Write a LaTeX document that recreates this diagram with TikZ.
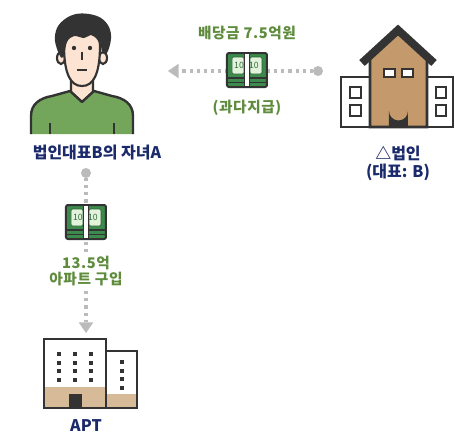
\documentclass[tikz,border=0pt]{standalone}
\usepackage{fontspec}
\setmainfont{Noto Sans CJK KR}[BoldFont={Noto Sans CJK KR Black}]
\usetikzlibrary{arrows.meta}
\definecolor{ink}{HTML}{333333}
\definecolor{navy}{HTML}{1B2A6B}
\definecolor{leaf}{HTML}{5E8C3C}
\definecolor{shirt}{HTML}{73A65A}
\definecolor{skin}{HTML}{FDE4D2}
\definecolor{dotgray}{HTML}{BBBBBB}
\definecolor{brick}{HTML}{C49A6C}
\definecolor{sand}{HTML}{D7BA97}
\definecolor{cash}{HTML}{3C8B4C}
\definecolor{bill}{HTML}{E3F2DA}
\tikzset{
  navylabel/.style={font=\bfseries\fontsize{12}{13.5}\selectfont, text=navy, align=center},
  leaflabel/.style={font=\bfseries\fontsize{11}{12.5}\selectfont\addfontfeatures{LetterSpace=4}, text=leaf, align=center},
  dotline/.style={draw=dotgray, line width=2.3pt, dash pattern=on 2.3pt off 3pt,
    -{Triangle[width=11pt,length=8pt,fill=dotgray,line width=0pt]}},
  dotstart/.style={circle, fill=dotgray, inner sep=0pt, minimum size=7.5pt},
  cashpack/.pic={
    \filldraw[fill=cash, draw=ink, line width=1.5pt, rounded corners=1.5pt] (-20,-17) rectangle (20,17);
    \draw[ink, line width=1.3pt] (-20,8) -- (20,8) (-20,12.5) -- (20,12.5);
    \filldraw[fill=bill, draw=cash!70!black, line width=0.5pt, rounded corners=1pt] (-15,-13) rectangle (-3,4);
    \filldraw[fill=bill, draw=cash!70!black, line width=0.5pt, rounded corners=1pt] (3,-13) rectangle (15,4);
    \node[font=\fontsize{6.5}{6.5}\selectfont, text=cash!80!black] at (-8,-4.5) {10};
    \node[font=\fontsize{6.5}{6.5}\selectfont, text=cash!80!black] at (7,-4.5) {10};
    \filldraw[fill=white, draw=ink, line width=1pt] (-2.5,-17) rectangle (2.5,17);
  }
}
\begin{document}
\begin{tikzpicture}[x=0.75pt, y=-0.75pt]
  \useasboundingbox (0,0) rectangle (455,436);

  % child
  \filldraw[fill=skin, draw=ink, line width=1.6pt] (71,76) -- (71,92) -- (82,102) -- (93,92) -- (93,76);
  \fill[shirt] (31,134) -- (31,116) .. controls (31,104) and (40,98) .. (52,96) -- (70,91) -- (82,102)
    -- (94,91) -- (112,96) .. controls (124,98) and (133,104) .. (133,116) -- (133,134) -- cycle;
  \draw[ink, line width=1.8pt, line join=round] (31,134) -- (31,116) .. controls (31,104) and (40,98) .. (52,96)
    -- (70,91) -- (82,102) -- (94,91) -- (112,96) .. controls (124,98) and (133,104) .. (133,116) -- (133,134);
  \draw[ink, line width=1.6pt] (50,123) -- (50,134) (114,123) -- (114,134);
  \filldraw[fill=skin, draw=ink, line width=1.6pt] (61,58) ellipse (4 and 6);
  \filldraw[fill=skin, draw=ink, line width=1.6pt] (103,58) ellipse (4 and 6);
  \filldraw[fill=skin, draw=ink, line width=1.6pt] (64,45) .. controls (64,75) and (71,86) .. (82,86)
    .. controls (93,86) and (100,75) .. (100,45) .. controls (100,28) and (64,28) .. (64,45) -- cycle;
  \fill[ink] plot[smooth cycle, tension=0.6] coordinates {(60,56) (55,41) (57,28) (65,19) (76,14) (89,14)
    (101,18) (109,27) (111,39) (107,53) (102,52) (100,41) (92,35) (84,38) (74,36) (67,42) (64,56)};
  \fill[ink] (74,48) circle (2.2) (90,48) circle (2.2);
  \draw[ink, line width=1.4pt] (82,52) -- (82,60);
  \draw[ink, line width=1.4pt] (77,70) -- (87,70);
  \node[navylabel] (child) at (97,153) {법인대표B의 자녀A};

  % corporation
  \filldraw[fill=white, draw=ink, line width=2.2pt] (341,77) rectangle (370,127);
  \filldraw[fill=white, draw=ink, line width=2.2pt] (427,77) rectangle (453,127);
  \filldraw[fill=brick, draw=ink, line width=2.2pt] (370,127) -- (370,58) -- (398,33) -- (427,58) -- (427,127) -- cycle;
  \draw[ink, line width=6pt, line join=miter] (362,63) -- (398,30) -- (434,63);
  \filldraw[fill=white, draw=ink, line width=2.2pt] (384,69) rectangle (395,77);
  \filldraw[fill=white, draw=ink, line width=2.2pt] (402,69) rectangle (413,77);
  \fill[ink] (389,127) -- (389,111) arc[start angle=180, end angle=0, radius=9.5] -- (408,127) -- cycle;
  \foreach \wy in {87,105} {
    \filldraw[fill=white, draw=ink, line width=2.2pt] (350,\wy) rectangle (361,\wy+11);
    \filldraw[fill=white, draw=ink, line width=2.2pt] (436,\wy) rectangle (446,\wy+11);
  }
  \node[navylabel] (corp) at (398,163) {△법인\\(대표: B)};

  % dividend flow
  \node[dotstart] (corpdot) at (318,71) {};
  \coordinate (childtip) at (168,71);
  \draw[dotline] (corpdot) -- (childtip);
  \pic at (247,70) {cashpack};
  \node[leaflabel] (dividend) at (247,33) {배당금 7.5억원};
  \node[leaflabel] (excess) at (247,108) {(과다지급)};

  % apartment
  \filldraw[fill=white, draw=ink, line width=2pt] (44,339) rectangle (106,408);
  \filldraw[fill=white, draw=ink, line width=2pt] (106,351) rectangle (137,408);
  \fill[sand] (45,387) rectangle (105,407);
  \fill[sand] (107,394) rectangle (136,407);
  \draw[ink, line width=2pt] (44,339) rectangle (106,408) (106,351) rectangle (137,408);
  \fill[ink] (69,394) rectangle (82,408);
  \foreach \ax in {59,75,91}
    \foreach \ay in {354,363,371,380}
      \fill[ink] (\ax-2.3,\ay-2.3) rectangle (\ax+2.3,\ay+2.3);
  \foreach \ay in {362,371,379,388}
    \fill[ink] (122-2.3,\ay-2.3) rectangle (122+2.3,\ay+2.3);
  \node[navylabel] (apt) at (86,426) {APT};

  % purchase flow
  \node[dotstart] (childdot) at (86,173) {};
  \coordinate (apttip) at (86,333);
  \draw[dotline] (childdot) -- (apttip);
  \pic at (86,222) {cashpack};
  \node[leaflabel, fill=white, inner sep=1pt] (purchase) at (86,271) {13.5억\\아파트 구입};
\end{tikzpicture}
\end{document}
